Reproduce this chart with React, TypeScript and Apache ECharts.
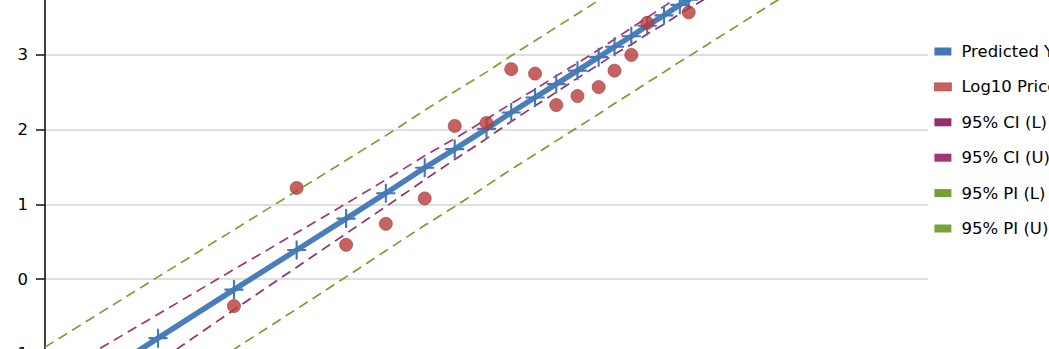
import React, { useEffect, useRef } from "react";
import * as echarts from "echarts";

// x positions of the observations (axis hidden in the reference)
const xValues = [0.0, 1.28, 2.14, 2.85, 3.41, 3.86, 4.3, 4.64, 5.0, 5.28, 5.55, 5.79, 6.03, 6.27, 6.45, 6.64, 6.82, 7.01, 7.19, 7.29, 8.56];
const predictedY = [-1.76, -0.79, -0.14, 0.39, 0.81, 1.15, 1.49, 1.74, 2.01, 2.23, 2.43, 2.61, 2.79, 2.97, 3.11, 3.25, 3.39, 3.53, 3.67, 3.74, 4.7];
const log10Price: (number | null)[] = [null, null, -0.36, 1.22, 0.46, 0.74, 1.08, 2.05, 2.09, 2.81, 2.75, 2.33, 2.45, 2.57, 2.79, 3.0, 3.43, null, null, 3.57, null];
const ciLower = [-2.16, -1.11, -0.41, 0.16, 0.61, 0.97, 1.33, 1.6, 1.88, 2.11, 2.32, 2.5, 2.69, 2.87, 3.01, 3.14, 3.28, 3.41, 3.55, 3.62, 4.52];
const ciUpper = [-1.36, -0.47, 0.13, 0.62, 1.01, 1.33, 1.65, 1.88, 2.14, 2.35, 2.54, 2.72, 2.89, 3.07, 3.21, 3.36, 3.5, 3.65, 3.79, 3.86, 4.88];
const piLower = [-2.61, -1.61, -0.94, -0.4, 0.03, 0.38, 0.72, 0.97, 1.25, 1.47, 1.67, 1.85, 2.03, 2.21, 2.35, 2.49, 2.63, 2.77, 2.91, 2.98, 3.93];
const piUpper = [-0.91, 0.03, 0.66, 1.18, 1.59, 1.92, 2.26, 2.51, 2.77, 2.99, 3.19, 3.37, 3.55, 3.73, 3.87, 4.01, 4.15, 4.29, 4.43, 4.5, 5.47];
const yTicks = { min: -2, max: 4, interval: 1 };
const seriesNames = ["Predicted Y", "Log10 Price", "95% CI (L)", "95% CI (U)", "95% PI (L)", "95% PI (U)"];

const FONT = "DejaVu Sans, Verdana, sans-serif";
const CROSS = "path://M8,0H10V8H18V10H10V18H8V10H0V8H8Z";

const pair = (ys: (number | null)[]) =>
  xValues.map((x, i) => [x, ys[i]]).filter((p) => p[1] !== null);

export default function App() {
  const ref = useRef<HTMLDivElement>(null);
  useEffect(() => {
    if (!ref.current) return;
    const chart = echarts.init(ref.current, undefined, { renderer: "svg" });
    const dashed = (name: string, data: (number | null)[], color: string, z: number) => ({
      name,
      type: "line",
      data: pair(data),
      showSymbol: false,
      symbol: "none",
      z,
      itemStyle: { color },
      lineStyle: { color, width: 1.7, type: [10, 6] },
    });
    chart.setOption({
      animation: false,
      backgroundColor: "#ffffff",
      grid: { left: 45, right: 272, top: 20.2, bottom: 31.4, containLabel: false },
      xAxis: {
        type: "value",
        min: 0,
        max: 10,
        show: false,
      },
      yAxis: {
        type: "value",
        min: yTicks.min,
        max: yTicks.max,
        interval: yTicks.interval,
        axisLine: { show: true, lineStyle: { color: "#111", width: 1.6 } },
        axisTick: { show: true, length: 9, lineStyle: { color: "#111", width: 1.5 } },
        axisLabel: { color: "#000", fontSize: 16.5, fontFamily: FONT, margin: 17 },
        splitLine: { show: true, lineStyle: { color: "#d4d4d4", width: 1.6 } },
      },
      legend: {
        orient: "vertical",
        left: 934,
        top: 83,
        padding: 0,
        itemWidth: 17,
        itemHeight: 8,
        itemGap: 18.4,
        selectedMode: false,
        itemStyle: { borderWidth: 0.8, borderColor: "inherit" },
        textStyle: { color: "#000", fontSize: 16.5, fontFamily: FONT, lineHeight: 16, padding: [0, 0, 0, 5] },
        data: seriesNames.map((n) => ({ name: n, icon: "rect" })),
      },
      series: [
        dashed(seriesNames[4], piLower, "#73a034", 2),
        dashed(seriesNames[5], piUpper, "#76a337", 2),
        dashed(seriesNames[2], ciLower, "#93306b", 3),
        dashed(seriesNames[3], ciUpper, "#a3337b", 3),
        {
          name: seriesNames[0],
          type: "line",
          data: pair(predictedY),
          z: 4,
          symbol: CROSS,
          symbolSize: [19, 19],
          showSymbol: true,
          itemStyle: { color: "#4477b6" },
          lineStyle: { color: "#4a7ebb", width: 5.5 },
        },
        {
          name: seriesNames[1],
          type: "scatter",
          data: pair(log10Price),
          z: 5,
          symbol: "circle",
          symbolSize: 13,
          itemStyle: { color: "#b83c39", borderColor: "#a33533", borderWidth: 0.8 },
        },
      ],
    });
    return () => chart.dispose();
  }, []);
  return (
    <div
      style={{
        position: "fixed",
        left: 0,
        top: 0,
        width: 1049,
        height: 349,
        overflow: "hidden",
        background: "#fff",
      }}
    >
      <div ref={ref} style={{ position: "absolute", left: 0, top: -40, width: 1200, height: 500 }} />
    </div>
  );
}
